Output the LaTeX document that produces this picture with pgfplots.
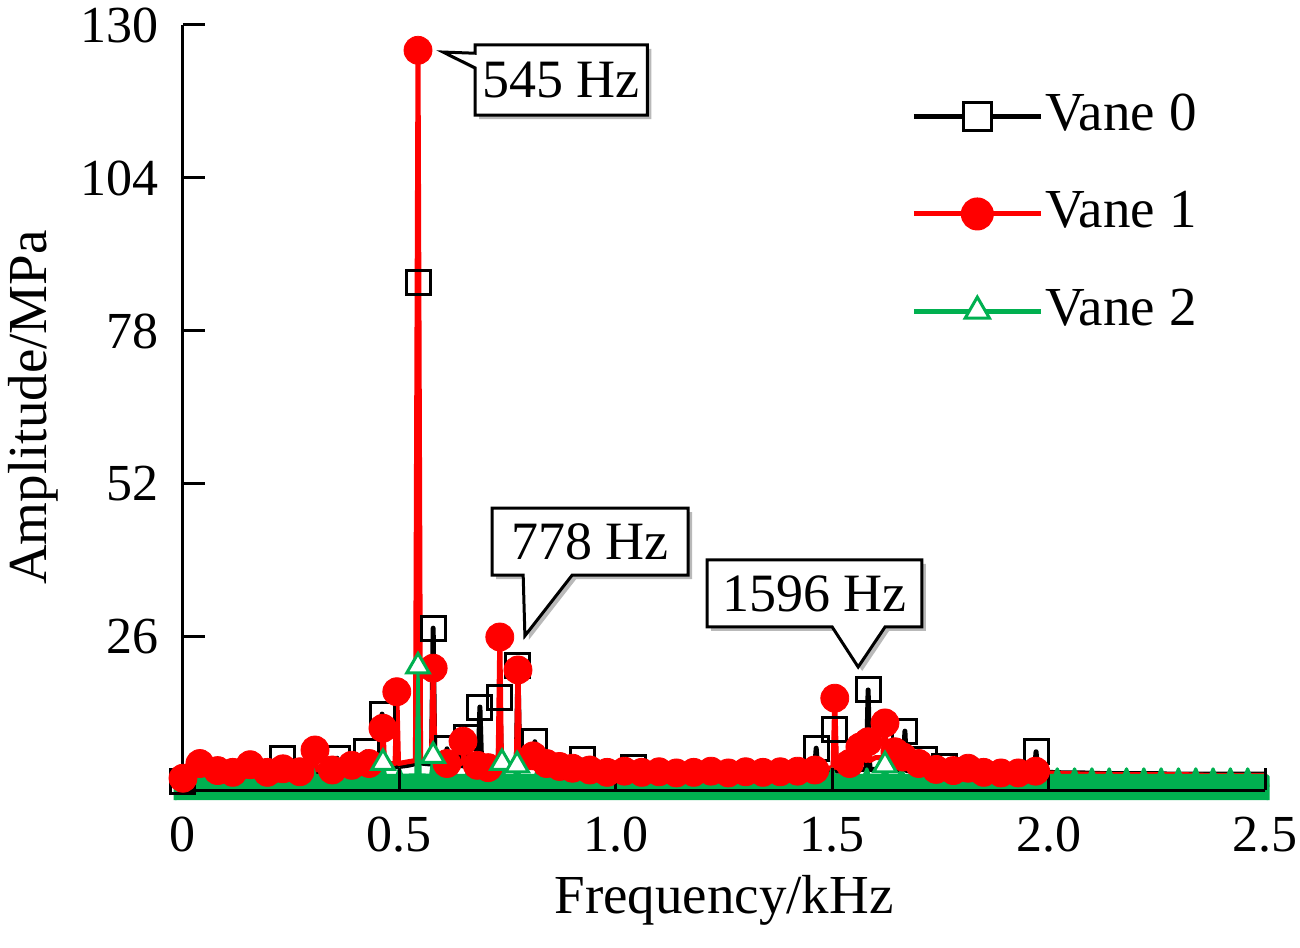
\documentclass[border=0pt]{standalone}
\usepackage{fontspec}
\setmainfont{Liberation Serif}
\usepackage{pgfplots}
\pgfplotsset{compat=1.18}
\definecolor{vgreen}{RGB}{0,176,80}
\definecolor{vred}{RGB}{255,0,0}
\begin{document}
\fontsize{27.5}{33}\selectfont
\begin{tikzpicture}
\useasboundingbox (-91.5pt,-78.5pt) rectangle (558.5pt,395pt);
\begin{axis}[
  at={(0,0)}, anchor=south west,
  scale only axis, width=541pt, height=382.5pt,
  xmin=0, xmax=2.5, ymin=0, ymax=130,
  clip=false,
  axis x line*=bottom, axis y line*=left,
  axis line style={line width=1.5pt, black},
  axis on top,
  tick align=inside,
  major tick length=11pt,
  tick style={black, line width=1.5pt},
  xtick={0,0.5,1,1.5,2,2.5},
  xticklabels={0,0.5,1.0,1.5,2.0,2.5},
  ytick={26,52,78,104,130},
  yticklabels={26,52,78,104,130},
  tick label style={font=\fontsize{26}{31}\selectfont},
  yticklabel style={xshift=-3pt},
  xticklabel style={yshift=-4pt},
  xlabel={Frequency/kHz}, ylabel={Amplitude/MPa},
  xlabel style={at={(axis description cs:0.5,-0.1608)}, anchor=base},
  ylabel style={at={(axis description cs:-0.1257,0.5)}, anchor=base},
  legend style={draw=none, fill=none, at={(axis cs:1.668,119.3)}, anchor=north west,
     row sep=24.25pt, font=\fontsize{27.5}{33}\selectfont, nodes={inner sep=1pt}},
  legend cell align=left,
  legend image code/.code={\draw[mark repeat=2,mark phase=2,#1] plot coordinates {(0pt,0pt) (31.75pt,0pt) (63.5pt,0pt)};},
]
\addlegendimage{black, line width=2.5pt, mark=square*, mark size=7pt, mark options={fill=white, draw=black, line width=1.5pt}}
\addlegendentry{Vane 0}
\addlegendimage{vred, line width=2.5pt, mark=*, mark size=7pt, mark options={fill=vred, draw=vred}}
\addlegendentry{Vane 1}
\addlegendimage{vgreen, line width=2.5pt, mark=triangle*, mark size=7pt, mark options={fill=white, draw=vgreen, line width=1.5pt}}
\addlegendentry{Vane 2}

% Vane 0 line
\addplot[black, line width=2.5pt, line join=round, forget plot] coordinates {
(0,0.5) (0.01,2.8) (0.03,3.0) (0.05,2.9) (0.07,3.1) (0.09,2.9) (0.11,3.0) (0.13,3.1) (0.15,2.9) (0.17,3.0) (0.19,3.1) (0.21,3.0) (0.227,3.0) (0.231,5.3) (0.235,3.1) (0.25,3.0) (0.27,3.2) (0.29,3.0) (0.31,3.1) (0.33,3.2) (0.352,3.1) (0.356,5.4) (0.36,3.2) (0.38,3.3) (0.40,3.2) (0.419,3.3) (0.423,6.5) (0.427,3.4) (0.44,3.5) (0.456,3.6) (0.46,12.9) (0.464,3.6) (0.48,3.8) (0.50,4.0) (0.52,4.2) (0.539,4.5) (0.543,86.3) (0.547,4.6) (0.56,4.5) (0.574,4.4) (0.578,27.5) (0.582,4.4) (0.595,4.3) (0.606,4.3) (0.61,7.0) (0.614,4.3) (0.63,4.2) (0.65,4.1) (0.654,9.0) (0.658,4.2) (0.67,4.3) (0.682,4.4) (0.686,14.1) (0.69,4.5) (0.71,4.4) (0.728,4.3) (0.732,15.8) (0.736,4.3) (0.75,4.2) (0.77,4.1) (0.774,21.1) (0.778,4.1) (0.79,4.0) (0.809,3.9) (0.813,8.2) (0.817,3.9) (0.84,3.8) (0.86,3.6) (0.88,3.5) (0.90,3.4) (0.92,3.4) (0.924,5.1) (0.928,3.4) (0.95,3.3) (0.97,3.2) (0.99,3.2) (1.01,3.2) (1.036,3.2) (1.04,3.8) (1.044,3.2) (1.07,3.1) (1.10,3.0) (1.13,3.1) (1.16,3.0) (1.19,3.0) (1.22,3.1) (1.25,3.0) (1.28,3.1) (1.31,3.0) (1.34,3.0) (1.37,3.1) (1.40,3.0) (1.43,3.1) (1.459,3.1) (1.463,7.1) (1.467,3.1) (1.48,3.2) (1.502,3.2) (1.506,10.2) (1.51,3.2) (1.53,3.3) (1.55,3.4) (1.57,3.5) (1.579,3.5) (1.583,17.0) (1.587,3.5) (1.60,3.5) (1.62,3.4) (1.64,3.4) (1.664,3.4) (1.668,10.0) (1.672,3.3) (1.69,3.3) (1.71,3.2) (1.714,5.1) (1.718,3.2) (1.74,3.1) (1.756,3.1) (1.76,4.0) (1.764,3.1) (1.79,3.0) (1.82,3.0) (1.85,3.0) (1.88,2.9) (1.91,3.0) (1.94,3.0) (1.967,3.0) (1.971,6.5) (1.975,3.0) (2.00,3.0) (2.04,2.9) (2.08,2.9) (2.12,2.8) (2.16,2.8) (2.20,2.8) (2.24,2.8) (2.28,2.7) (2.32,2.7) (2.36,2.7) (2.40,2.7) (2.44,2.7) (2.48,2.7) (2.50,2.7)
};
% Vane 0 markers
\addplot[only marks, mark=square, mark size=6pt, mark options={draw=black, line width=1.5pt}, forget plot] coordinates {
(0.0,1.5) (0.231,5.3) (0.356,5.4) (0.423,6.5) (0.46,12.9) (0.543,86.3) (0.578,27.5) (0.61,7.0) (0.654,9.0) (0.686,14.1) (0.732,15.8) (0.774,21.1) (0.813,8.2) (0.924,5.1) (1.04,3.8) (1.463,7.1) (1.506,10.2) (1.583,17.0) (1.668,10.0) (1.714,5.1) (1.76,4.0) (1.971,6.5)
};
% Vane 1 line
\addplot[vred, line width=2.5pt, line join=round, forget plot] coordinates {
(0,2.0) (0.01,3.5) (0.03,3.8) (0.039,4.5) (0.05,3.6) (0.07,3.4) (0.09,3.3) (0.11,3.2) (0.13,3.4) (0.155,4.3) (0.17,3.5) (0.19,3.2) (0.21,3.2) (0.231,3.6) (0.25,3.3) (0.27,3.2) (0.29,3.4) (0.301,3.4) (0.305,6.8) (0.309,3.4) (0.33,3.5) (0.35,3.6) (0.37,3.8) (0.39,4.2) (0.41,4.0) (0.43,4.5) (0.45,4.2) (0.458,4.2) (0.462,10.5) (0.466,4.2) (0.48,4.5) (0.49,4.5) (0.494,16.7) (0.498,4.5) (0.52,4.8) (0.537,5.0) (0.543,125.7) (0.549,5.0) (0.56,5.0) (0.574,5.0) (0.578,20.7) (0.582,5.0) (0.60,4.8) (0.62,4.5) (0.643,4.5) (0.647,8.3) (0.651,4.5) (0.67,4.3) (0.69,4.2) (0.705,3.8) (0.728,4.0) (0.732,26.0) (0.736,4.0) (0.755,4.0) (0.770,4.0) (0.774,20.4) (0.778,4.0) (0.79,4.5) (0.809,5.8) (0.82,4.8) (0.84,4.5) (0.86,4.2) (0.88,3.9) (0.90,3.7) (0.92,3.6) (0.94,3.4) (0.96,3.3) (0.98,3.0) (1.00,3.1) (1.02,3.2) (1.06,3.0) (1.10,3.1) (1.14,2.9) (1.18,3.0) (1.22,3.2) (1.26,2.9) (1.30,3.1) (1.34,3.0) (1.38,3.1) (1.42,3.2) (1.46,3.4) (1.48,3.6) (1.502,3.8) (1.506,15.6) (1.51,3.8) (1.53,4.2) (1.54,4.5) (1.56,5.5) (1.579,5.0) (1.583,8.2) (1.587,5.0) (1.60,5.5) (1.618,5.5) (1.622,11.4) (1.626,5.5) (1.645,6.5) (1.664,5.6) (1.68,5.0) (1.70,4.5) (1.72,4.0) (1.74,3.5) (1.76,3.4) (1.78,3.3) (1.80,3.4) (1.814,3.7) (1.83,3.2) (1.87,3.0) (1.91,2.9) (1.95,3.0) (1.99,2.9) (2.04,2.8) (2.08,2.7) (2.12,2.7) (2.16,2.6) (2.20,2.6) (2.24,2.6) (2.28,2.6) (2.32,2.6) (2.36,2.5) (2.40,2.5) (2.44,2.5) (2.48,2.5) (2.50,2.5) (2.505,0.5)
};
% Vane 1 markers
\addplot[only marks, mark=*, mark size=7pt, mark options={fill=vred, draw=vred}, forget plot] coordinates {
(0.0,2.0) (0.039,4.5) (0.08,3.3) (0.115,3.0) (0.155,4.3) (0.195,3.0) (0.231,3.6) (0.27,3.1) (0.305,6.8) (0.345,3.4) (0.39,4.2) (0.43,4.5) (0.462,10.5) (0.494,16.7) (0.543,125.7) (0.578,20.7) (0.61,4.5) (0.647,8.3) (0.68,4.2) (0.705,3.8) (0.732,26.0) (0.774,20.4) (0.809,5.8) (0.84,4.5) (0.87,4.0) (0.90,3.7) (0.94,3.4) (0.98,3.0) (1.02,3.2) (1.06,3.0) (1.10,3.1) (1.14,2.9) (1.18,3.0) (1.22,3.2) (1.26,2.9) (1.30,3.1) (1.34,3.0) (1.38,3.1) (1.42,3.2) (1.46,3.4) (1.506,15.6) (1.54,4.5) (1.564,7.3) (1.583,8.2) (1.622,11.4) (1.645,6.5) (1.664,5.6) (1.70,4.5) (1.74,3.5) (1.78,3.3) (1.814,3.7) (1.85,3.0) (1.89,2.9) (1.93,2.9) (1.97,3.2)
};
% Vane 2 line (with band)
\addplot[draw=vgreen, fill=vgreen, line width=1.5pt, line join=round, forget plot] coordinates {
(-0.018,-1.7) (-0.018,2.2) (0,2.5)
(0.014,2.5) (0.02,3.6) (0.026,2.5) (0.054,2.5) (0.06,3.6) (0.066,2.5) (0.094,2.5) (0.10,3.6) (0.106,2.5)
(0.134,2.5) (0.14,3.6) (0.146,2.5) (0.174,2.5) (0.18,3.6) (0.186,2.5) (0.214,2.5) (0.22,3.6) (0.226,2.5)
(0.254,2.5) (0.26,3.6) (0.266,2.5) (0.294,2.5) (0.30,3.6) (0.306,2.5) (0.334,2.5) (0.34,3.6) (0.346,2.5)
(0.374,2.5) (0.38,3.6) (0.386,2.5) (0.414,2.5) (0.42,3.6) (0.426,2.5) (0.456,2.5) (0.462,4.6) (0.468,2.5)
(0.494,2.5) (0.50,3.6) (0.506,2.5) (0.538,2.6) (0.543,21.0) (0.548,2.6) (0.572,2.5) (0.578,5.8) (0.584,2.5)
(0.614,2.5) (0.62,3.6) (0.626,2.5) (0.654,2.5) (0.66,3.6) (0.666,2.5) (0.694,2.5) (0.70,3.6) (0.706,2.5)
(0.731,2.5) (0.737,4.6) (0.743,2.5) (0.766,2.5) (0.772,4.2) (0.778,2.5) (0.814,2.5) (0.82,3.6) (0.826,2.5)
(0.854,2.5) (0.86,3.6) (0.866,2.5) (0.894,2.5) (0.90,3.6) (0.906,2.5) (0.934,2.5) (0.94,3.6) (0.946,2.5)
(0.974,2.5) (0.98,3.6) (0.986,2.5) (1.014,2.5) (1.02,3.6) (1.026,2.5) (1.054,2.5) (1.06,3.6) (1.066,2.5)
(1.094,2.5) (1.10,3.6) (1.106,2.5) (1.134,2.5) (1.14,3.6) (1.146,2.5) (1.174,2.5) (1.18,3.6) (1.186,2.5)
(1.214,2.5) (1.22,3.6) (1.226,2.5) (1.254,2.5) (1.26,3.6) (1.266,2.5) (1.294,2.5) (1.30,3.6) (1.306,2.5)
(1.334,2.5) (1.34,3.6) (1.346,2.5) (1.374,2.5) (1.38,3.6) (1.386,2.5) (1.414,2.5) (1.42,3.6) (1.426,2.5)
(1.454,2.5) (1.46,3.6) (1.466,2.5) (1.494,2.5) (1.50,3.6) (1.506,2.5) (1.534,2.5) (1.54,3.6) (1.546,2.5)
(1.574,2.5) (1.58,3.6) (1.586,2.5) (1.616,2.5) (1.622,4.2) (1.628,2.5) (1.654,2.5) (1.66,3.6) (1.666,2.5)
(1.694,2.5) (1.70,3.6) (1.706,2.5) (1.734,2.5) (1.74,3.6) (1.746,2.5) (1.774,2.5) (1.78,3.6) (1.786,2.5)
(1.814,2.5) (1.82,3.6) (1.826,2.5) (1.854,2.5) (1.86,3.6) (1.866,2.5) (1.894,2.5) (1.90,3.6) (1.906,2.5)
(1.934,2.5) (1.94,3.6) (1.946,2.5) (1.974,2.5) (1.98,3.6) (1.986,2.5) (2.014,2.5) (2.02,3.6) (2.026,2.5)
(2.054,2.5) (2.06,3.6) (2.066,2.5) (2.094,2.5) (2.10,3.6) (2.106,2.5) (2.134,2.5) (2.14,3.6) (2.146,2.5)
(2.174,2.5) (2.18,3.6) (2.186,2.5) (2.214,2.5) (2.22,3.6) (2.226,2.5) (2.254,2.5) (2.26,3.6) (2.266,2.5)
(2.294,2.5) (2.30,3.6) (2.306,2.5) (2.334,2.5) (2.34,3.6) (2.346,2.5) (2.374,2.5) (2.38,3.6) (2.386,2.5)
(2.414,2.5) (2.42,3.6) (2.426,2.5) (2.454,2.5) (2.46,3.6) (2.466,2.5) (2.5,2.5) (2.507,2.3) (2.507,-1.7)
};
% Vane 2 markers
\addplot[only marks, mark=triangle*, mark size=6.5pt, mark options={fill=white, draw=vgreen, line width=1.5pt}, forget plot] coordinates {
(0.462,4.6) (0.543,21.0) (0.578,5.8) (0.737,4.6) (0.772,4.2) (1.622,4.2)
};

% callouts
\fill[gray!55, xshift=2pt, yshift=-2pt] (axis cs:0.675,126.6) -- (axis cs:1.073,126.6) -- (axis cs:1.073,114.7) -- (axis cs:0.675,114.7) -- (axis cs:0.675,122.7) -- (axis cs:0.601,125.4) -- (axis cs:0.675,125.2) -- cycle;
\draw[fill=white, line width=1.5pt, line join=miter] (axis cs:0.675,126.6) -- (axis cs:1.073,126.6) -- (axis cs:1.073,114.7) -- (axis cs:0.675,114.7) -- (axis cs:0.675,122.7) -- (axis cs:0.601,125.4) -- (axis cs:0.675,125.2) -- cycle;
\node[font=\fontsize{27}{32}\selectfont, inner sep=0pt] at (axis cs:0.874,120.65) {545 Hz};

\fill[gray!55, xshift=2pt, yshift=-2pt] (axis cs:0.714,47.9) -- (axis cs:1.167,47.9) -- (axis cs:1.167,36.5) -- (axis cs:0.899,36.5) -- (axis cs:0.790,26.2) -- (axis cs:0.786,36.5) -- (axis cs:0.714,36.5) -- cycle;
\draw[fill=white, line width=1.5pt] (axis cs:0.714,47.9) -- (axis cs:1.167,47.9) -- (axis cs:1.167,36.5) -- (axis cs:0.899,36.5) -- (axis cs:0.790,26.2) -- (axis cs:0.786,36.5) -- (axis cs:0.714,36.5) -- cycle;
\node[font=\fontsize{27}{32}\selectfont, inner sep=0pt] at (axis cs:0.9405,42.2) {778 Hz};

\fill[gray!55, xshift=2pt, yshift=-2pt] (axis cs:1.211,39.1) -- (axis cs:1.707,39.1) -- (axis cs:1.707,27.7) -- (axis cs:1.622,27.7) -- (axis cs:1.56,20.9) -- (axis cs:1.50,27.7) -- (axis cs:1.211,27.7) -- cycle;
\draw[fill=white, line width=1.5pt] (axis cs:1.211,39.1) -- (axis cs:1.707,39.1) -- (axis cs:1.707,27.7) -- (axis cs:1.622,27.7) -- (axis cs:1.56,20.9) -- (axis cs:1.50,27.7) -- (axis cs:1.211,27.7) -- cycle;
\node[font=\fontsize{27}{32}\selectfont, inner sep=0pt] at (axis cs:1.459,33.4) {1596 Hz};
\end{axis}
\end{tikzpicture}
\end{document}
